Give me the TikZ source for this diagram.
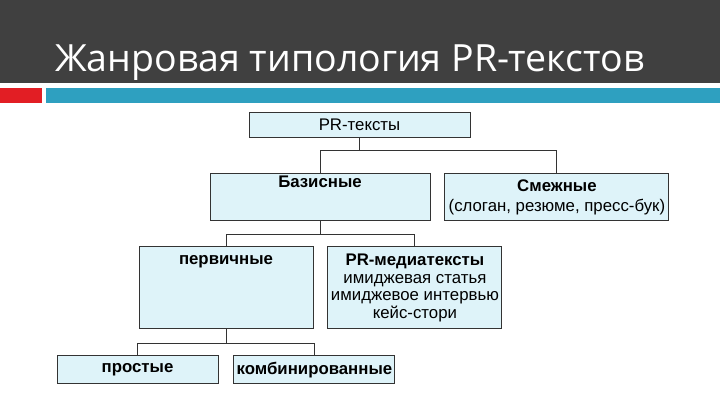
\documentclass[tikz,border=0pt]{standalone}
\usepackage{fontspec}
\setmainfont{Liberation Sans}
\newfontfamily\titlefont{Open Sans}
\usepackage{xcolor}
\usepackage{tikz}
\usetikzlibrary{positioning, calc}
\definecolor{hdrgray}{RGB}{64,64,64}
\definecolor{barred}{RGB}{226,30,36}
\definecolor{barteal}{RGB}{46,160,192}
\definecolor{boxfill}{RGB}{222,243,249}
\tikzstyle{box} = [rectangle, draw=black!80, line width=0.9pt, fill=boxfill, inner xsep=2pt, inner ysep=3pt, text centered]
\tikzstyle{topbox} = [text height=#1]
\tikzstyle{link} = [draw=black!80, line width=0.9pt]

\begin{document}
\begin{tikzpicture}[x=1pt, y=1pt, font=\fontsize{16.8}{17.5}\selectfont]
        \useasboundingbox (0,0) rectangle (720,405);
        % header
        \fill [hdrgray] (0,405) rectangle (720,322);
        \fill [barred] (0,317) rectangle (42,302);
        \fill [barteal] (46,317) rectangle (720,302);
        \node (title) [anchor=base west, text=white, inner sep=0pt, font=\titlefont\fontsize{37.5}{42}\selectfont] at (55,333) {Жанровая типология PR-текстов};

        \node (root) [box, minimum width=221pt, minimum height=25pt] at (359.5,280.5) {PR-тексты};
        \node (bazis) [box, minimum width=220pt, topbox=11pt, text depth=30pt, below=36pt of root, xshift=-39.5pt] {\bfseries Базисные};
        \node (smezh) [box, minimum width=224pt, minimum height=47pt, right=14pt of bazis, align=center, font=\fontsize{16.8}{20}\selectfont] {\textbf{Смежные}\\(слоган, резюме, пресс-бук)};
        \node (perv) [box, minimum width=174pt, topbox=15pt, text depth=61pt, below=25pt of bazis, xshift=-94pt] {\bfseries первичные};
        \node (media) [box, minimum width=174pt, minimum height=82pt, right=14pt of perv, align=center] {\textbf{PR-медиатексты}\\имиджевая статья\\имиджевое интервью\\кейс-стори};
        \node (prost) [box, minimum width=161pt, minimum height=28pt, below=26pt of perv, xshift=-88.5pt] {\bfseries простые};
        \node (komb) [box, minimum width=161pt, minimum height=28pt, right=15pt of prost] {\bfseries комбинированные};

        \coordinate (bus1) at ($(root.south)+(0,-13pt)$);
        \coordinate (bus2) at ($(bazis.south)+(0,-13pt)$);
        \coordinate (bus3) at ($(perv.south)+(0,-14pt)$);

        \draw [link] (root.south) -- (bus1);
        \draw [link] (bus1) -| (bazis.north);
        \draw [link] (bus1) -| (smezh.north);

        \draw [link] (bazis.south) -- (bus2);
        \draw [link] (bus2) -| (perv.north);
        \draw [link] (bus2) -| (media.north);

        \draw [link] (perv.south) -- (bus3);
        \draw [link] (bus3) -| (prost.north);
        \draw [link] (bus3) -| (komb.north);
    \end{tikzpicture}
\end{document}
